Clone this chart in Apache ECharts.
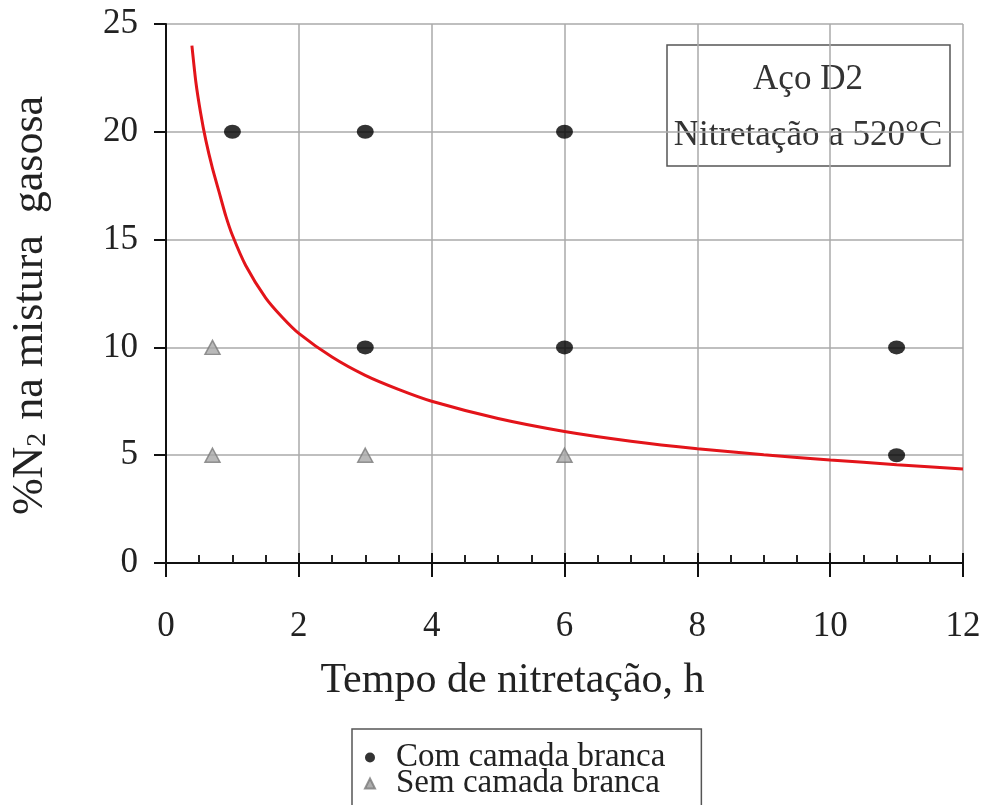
<!DOCTYPE html>
<html>
<head>
<meta charset="utf-8">
<script src="https://cdn.jsdelivr.net/npm/echarts@6/dist/echarts.min.js"></script>
<style>html,body{margin:0;padding:0;background:#fff}#c{width:987px;height:805px}</style>
</head>
<body>
<div id="c"></div>
<script>
// Data
var xTicks = [0, 2, 4, 6, 8, 10, 12];
var yTicks = [0, 5, 10, 15, 20, 25];
var comCamada = [[1, 20], [3, 20], [6, 20], [3, 10], [6, 10], [11, 10], [11, 5]];
var semCamada = [[0.7, 10], [0.7, 5], [3, 5], [6, 5]];
var curve = [[0.39, 24.0], [0.45, 22.3], [0.52, 20.9], [0.6, 19.6], [0.7, 18.3], [0.8, 17.2],
             [0.9, 16.1], [1.0, 15.2], [1.2, 13.8], [1.5, 12.3], [1.75, 11.4],
             [2.0, 10.65], [2.5, 9.55], [3.0, 8.7], [3.5, 8.05], [4.0, 7.5], [5.0, 6.7], [6.0, 6.1],
             [7.0, 5.65], [8.0, 5.3], [9.0, 5.02], [10.0, 4.78], [11.0, 4.56], [12.0, 4.36]];
var legendNames = ['Com camada branca', 'Sem camada branca'];
var boxLines = ['Aço D2', 'Nitretação a 520°C'];

var FONT = 'Liberation Serif';
var chart = echarts.init(document.getElementById('c'));
chart.setOption({
  backgroundColor: '#fff',
  animation: false,
  grid: { left: 166, right: 24, top: 24, bottom: 242, containLabel: false },
  xAxis: [{
    type: 'value', min: xTicks[0], max: xTicks[xTicks.length - 1], interval: 2,
    name: 'Tempo de nitretação, h', nameLocation: 'middle', nameGap: 97,
    nameTextStyle: { fontFamily: FONT, fontSize: 42, color: '#222', padding: [0, 104, 0, 0] },
    axisLine: { show: true, onZero: false, lineStyle: { color: '#111', width: 2 } },
    axisTick: { show: true, length: 14, lineStyle: { color: '#111', width: 2 } },
    minorTick: { show: true, splitNumber: 4, length: -8, lineStyle: { color: '#222', width: 2 } },
    axisLabel: { fontFamily: FONT, fontSize: 35, color: '#222', margin: 46 },
    splitLine: { show: true, lineStyle: { color: '#aaa', width: 1.5 } }
  }, {
    type: 'value', min: xTicks[0], max: xTicks[xTicks.length - 1], interval: 2,
    position: 'bottom',
    axisLine: { show: false },
    axisTick: { show: true, inside: true, length: 10, lineStyle: { color: '#111', width: 2 } },
    axisLabel: { show: false },
    splitLine: { show: false }
  }],
  yAxis: {
    type: 'value', min: yTicks[0], max: yTicks[yTicks.length - 1], interval: 5,
    name: '{n|%N}{s|2}{n| na mistura  gasosa}', nameLocation: 'middle', nameGap: 114, nameRotate: 90,
    nameTextStyle: {
      fontFamily: FONT, color: '#222', padding: [0, 24, 0, 0],
      rich: {
        n: { fontFamily: FONT, fontSize: 44, color: '#222' },
        s: { fontFamily: FONT, fontSize: 28, color: '#222', verticalAlign: 'bottom', padding: [0, 2, 0, 0] }
      }
    },
    axisLine: { show: true, lineStyle: { color: '#111', width: 2 } },
    axisTick: { show: true, length: 12, lineStyle: { color: '#111', width: 2 } },
    axisLabel: { fontFamily: FONT, fontSize: 35, color: '#222', margin: 28 },
    splitLine: { show: true, lineStyle: { color: '#aaa', width: 1.5 } }
  },
  legend: {
    type: 'plain', orient: 'vertical', left: 352, top: 729, height: 120,
    padding: [12, 36, 30, 12],
    itemGap: -7, itemWidth: 10, itemHeight: 10,
    borderColor: '#555', borderWidth: 1.5, backgroundColor: '#fff',
    textStyle: { fontFamily: FONT, fontSize: 33, color: '#222', padding: [0, 0, 0, 16] },
    data: [
      { name: legendNames[0], icon: 'circle', itemStyle: { color: '#000' } },
      { name: legendNames[1], icon: 'triangle', itemStyle: { color: '#999' } }
    ]
  },
  graphic: [{
    type: 'group', z: 100,
    children: [
      { type: 'rect', shape: { x: 667, y: 45, width: 283, height: 121 },
        style: { fill: '#fff', stroke: '#555', lineWidth: 1.5 } },
      { type: 'text', x: 808, y: 80,
        style: { text: boxLines[0], font: '35px "Liberation Serif"', fill: '#333', textAlign: 'center', textVerticalAlign: 'middle' } },
      { type: 'text', x: 808, y: 136,
        style: { text: boxLines[1], font: '35px "Liberation Serif"', fill: '#333', textAlign: 'center', textVerticalAlign: 'middle' } }
    ]
  }],
  series: [{
    type: 'line', name: 'curve', data: curve, smooth: 0.2, showSymbol: false, symbol: 'none',
    lineStyle: { color: '#e3141a', width: 3 }, z: 3, silent: true
  }, {
    type: 'scatter', name: legendNames[0], data: comCamada, symbol: 'circle', symbolSize: [17, 14],
    itemStyle: { color: '#000' }, z: 4
  }, {
    type: 'scatter', name: legendNames[1], data: semCamada, symbol: 'triangle', symbolSize: [15, 14],
    itemStyle: { color: '#a8a8a8', borderColor: '#7a7a7a', borderWidth: 1.5 }, z: 4
  }]
});
</script>
</body>
</html>
